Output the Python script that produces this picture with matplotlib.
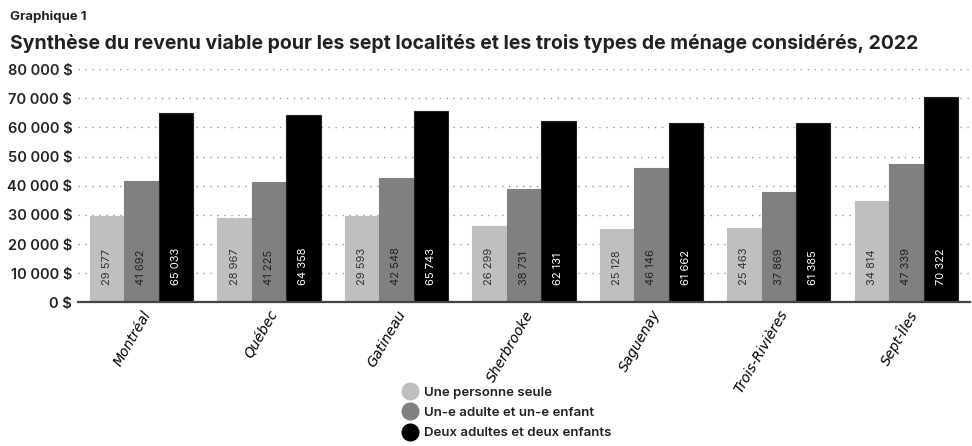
import numpy as np
import matplotlib
matplotlib.use("Agg")
import matplotlib.pyplot as plt
from matplotlib.lines import Line2D

plt.rcParams['font.family'] = ['Inter', 'DejaVu Sans']

# data
villes = ["Montréal", "Québec", "Gatineau", "Sherbrooke", "Saguenay", "Trois-Rivières", "Sept-Îles"]
seule = [29577, 28967, 29593, 26299, 25128, 25463, 34814]
monoparental = [41692, 41225, 42548, 38731, 46146, 37869, 47339]
couple = [65033, 64358, 65743, 62131, 61662, 61385, 70322]
series_noms = ["Une personne seule", "Un-e adulte et un-e enfant", "Deux adultes et deux enfants"]

couleurs = ["#bfbfbf", "#808080", "#000000"]
couleurs_txt = ["#333333", "#222222", "#ffffff"]

def fmt(v):
    return f"{v:,}".replace(",", " ")

fig = plt.figure(figsize=(9.72, 4.46), dpi=100)
ax = fig.add_axes([0.080, 0.322, 0.918, 0.523])

x = np.arange(len(villes))
w = 0.27
for i, vals in enumerate([seule, monoparental, couple]):
    pos = x + (i - 1) * w
    ax.bar(pos, vals, width=w, color=couleurs[i], edgecolor="#222222" if i == 2 else couleurs[i],
           linewidth=0.8, zorder=3)
    for p, v in zip(pos, vals):
        ax.text(p, 6000, fmt(v), rotation=90, ha="center", va="bottom", fontsize=8,
                color=couleurs_txt[i], zorder=4)

ax.set_xlim(-0.5, len(villes) - 0.5)
ax.set_ylim(0, 80000)
ax.set_yticks(np.arange(0, 80001, 10000))
ax.set_yticklabels([fmt(v) + " $" for v in range(0, 80001, 10000)], fontsize=10.5,
                   fontweight="semibold", color="#222222")
ax.yaxis.grid(True, linestyle=(0, (1, 4)), color="#999999", linewidth=1, zorder=0)
ax.tick_params(axis="y", length=0, pad=4)
ax.tick_params(axis="x", length=0, pad=4)
ax.set_xticks(x)
ax.set_xticklabels(villes, rotation=60, ha="right", rotation_mode="anchor",
                   fontstyle="italic", fontsize=10, family=["DejaVu Sans"])
for s in ["top", "right", "left"]:
    ax.spines[s].set_visible(False)
ax.spines["bottom"].set_color("#444444")
ax.spines["bottom"].set_linewidth(1.6)
ax.spines["bottom"].set_zorder(5)

fig.text(0.010, 0.955, "Graphique 1", fontsize=9.5, fontweight="bold", color="#222222")
fig.text(0.010, 0.89, "Synthèse du revenu viable pour les sept localités et les trois types de ménage considérés, 2022",
         fontsize=14, fontweight="bold", color="#222222")

handles = [Line2D([0], [0], marker="o", linestyle="", markersize=12, markerfacecolor=c,
                  markeredgecolor=c) for c in couleurs]
leg = fig.legend(handles, series_noms, loc="upper left", bbox_to_anchor=(0.410, 0.145),
                 frameon=False, fontsize=9.5, handletextpad=0.5, labelspacing=0.6,
                 borderaxespad=0, handlelength=1.0)
for t in leg.get_texts():
    t.set_fontweight("semibold")
    t.set_color("#222222")

fig.savefig("out.png", dpi=100)
